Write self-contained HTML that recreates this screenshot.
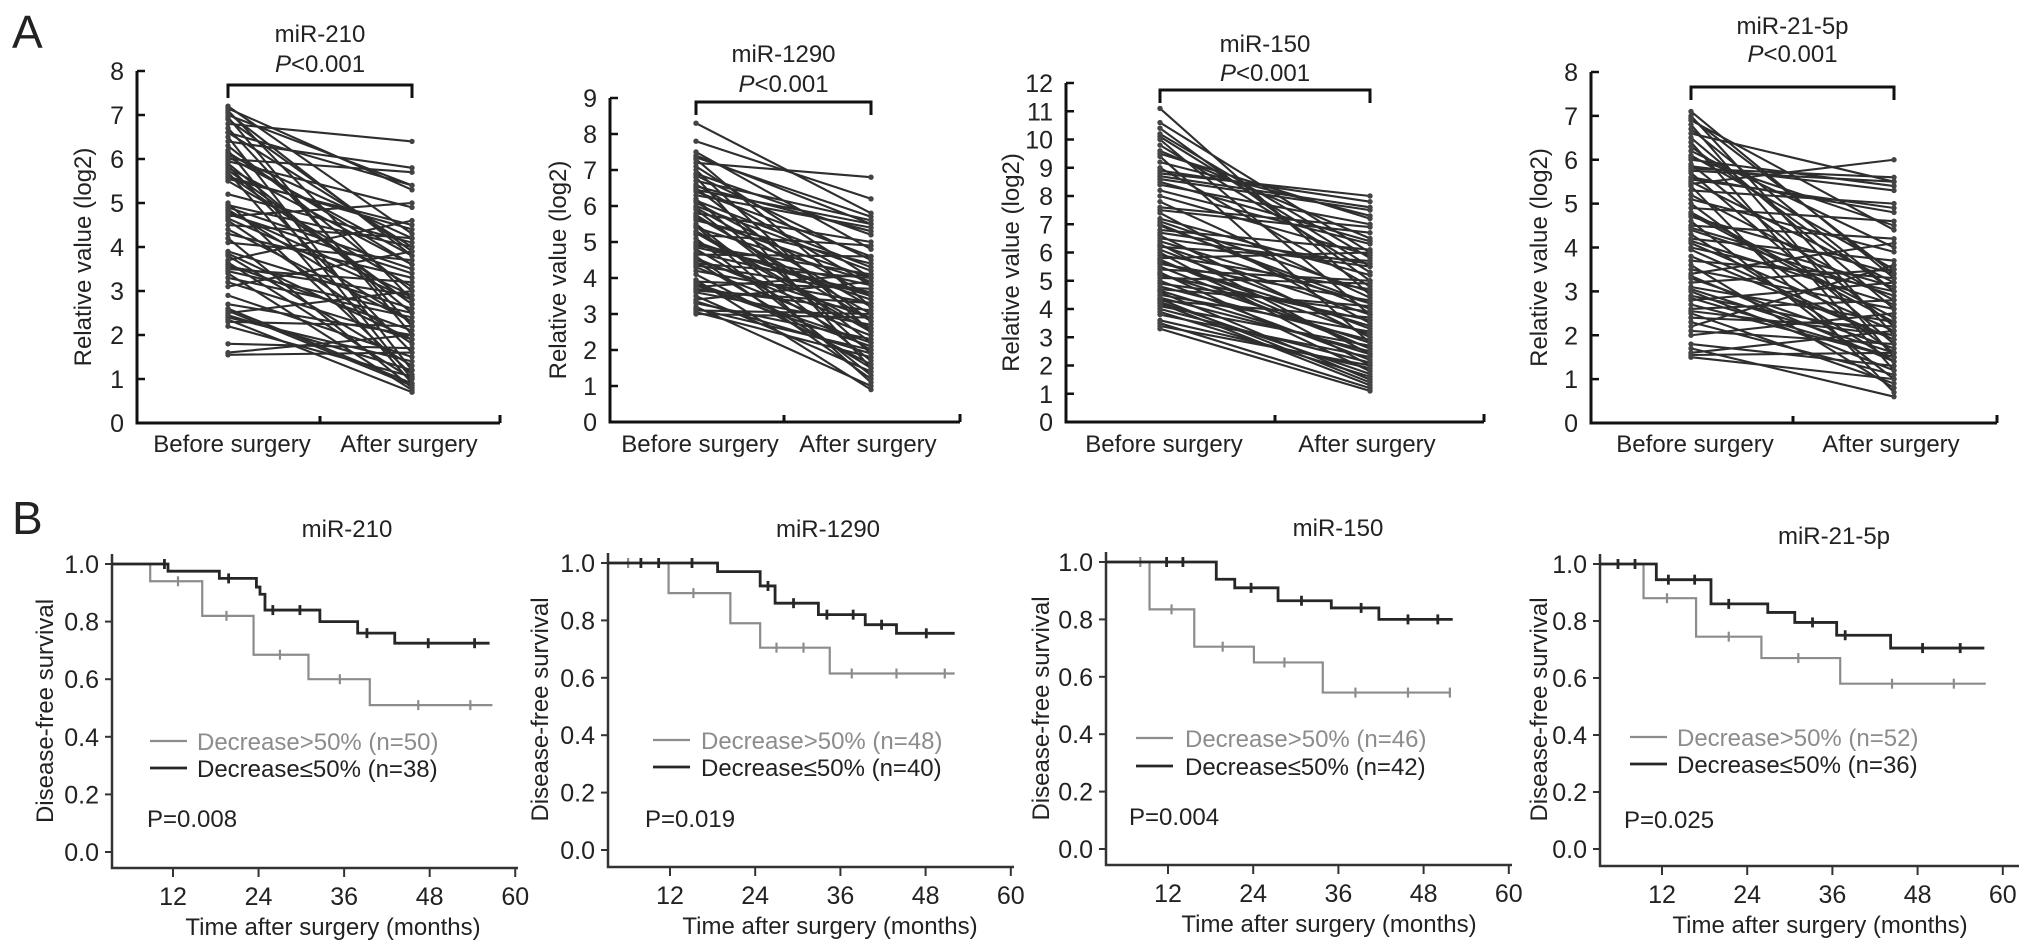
<!DOCTYPE html>
<html><head><meta charset="utf-8"><style>
html,body{margin:0;padding:0;background:#fff}
svg{display:block}
text{font-family:"Liberation Sans",Arial,sans-serif;fill:#222}
</style></head><body>
<svg id="fig" width="2032" height="952" viewBox="0 0 2032 952" xmlns="http://www.w3.org/2000/svg">
<text x="12" y="48" font-size="46">A</text>
<text x="12" y="534" font-size="46">B</text>
</svg>
<script>
// ---------- Panel A data (log2 relative values) ----------
const aTitles = ["miR-210","miR-1290","miR-150","miR-21-5p"];
const aYTicks1 = [0,1,2,3,4,5,6,7,8];
const aYTicks2 = [0,1,2,3,4,5,6,7,8,9];
const aYTicks3 = [0,1,2,3,4,5,6,7,8,9,10,11,12];
const aYTicks4 = [0,1,2,3,4,5,6,7,8];
const aCategories = ["Before surgery","After surgery"];
const a1Before = [7.2,7.1,7.0,6.9,6.8,6.7,6.6,6.5,6.4,6.3, 6.2,6.1,6.0,5.9,5.8,5.7,5.6,5.5,7.15,6.95, 6.05,5.85,5.65,5.2,5.0,4.9,4.8,4.7,4.6,4.5, 4.4,4.3,4.2,4.1,3.9,3.8,3.7,3.6,3.5,3.4, 3.3,3.2,3.1,2.9,2.7,2.6,2.5,2.4,2.3,2.2, 1.8,1.6,1.55,4.75,4.65,3.65,3.45,2.55,2.45,5.95, 6.15,5.75,4.95,3.85,2.35,6.6,4.85,3.55,7.05,5.55];
const a1After  = [4.3,2.8,5.4,3.9,6.4,2.2,4.0,1.2,5.8,3.0, 1.0,4.2,5.7,2.5,3.6,0.9,4.4,3.1,5.3,2.0, 3.8,1.6,2.7,4.1,1.1,3.5,2.9,5.0,1.8,4.2, 2.3,3.3,0.8,3.7,2.6,1.3,4.6,2.1,3.2,0.75, 2.4,1.9,3.9,1.5,2.0,0.9,3.0,1.4,2.2,1.05, 1.7,2.0,1.6,3.4,2.8,1.0,2.5,0.85,1.2,4.9, 3.6,2.7,4.0,1.9,0.7,5.4,2.3,2.9,3.8,4.5];
const a2Before = [8.3,7.8,7.5,7.4,7.3,7.2,7.1,7.0,6.9,6.8, 6.7,6.6,6.5,6.4,6.3,6.2,6.1,6.0,5.9,5.8, 5.7,5.6,5.5,5.4,5.3,5.2,5.1,5.0,4.9,4.8, 4.7,4.6,4.5,4.4,4.3,4.2,4.1,3.9,3.8,3.7, 3.6,3.5,3.4,3.3,3.2,3.1,3.0,3.05,6.85,6.45, 5.95,5.65,5.25,4.85,4.45,4.35,3.85,3.75,3.65,7.35, 6.15,5.45,4.95,4.55,3.95,3.35,6.55,5.75,4.65,3.15];
const a2After  = [5.8,6.2,4.8,5.5,3.2,6.8,4.0,2.5,5.2,1.5, 5.6,3.8,2.8,4.6,5.4,1.9,3.5,4.2,2.2,5.0, 3.0,4.4,1.7,3.9,2.6,4.9,1.3,3.4,4.1,2.0, 3.6,1.2,2.9,4.0,2.4,3.3,1.6,3.7,2.1,3.1, 2.7,1.4,3.9,2.3,1.0,3.0,2.9,1.8,4.5,5.5, 3.2,4.0,2.5,3.8,1.5,3.6,2.2,4.1,3.3,5.7, 4.3,1.1,3.5,2.6,0.9,1.9,5.3,2.8,4.6,2.0];
const a3Before = [11.1,10.6,10.4,10.2,10.0,9.8,9.6,9.4,9.2,9.0, 8.9,8.8,8.6,8.4,8.2,8.0,7.8,7.6,7.4,7.2, 7.0,6.8,6.6,6.5,6.4,6.3,6.2,6.1,6.0,5.9, 5.8,5.7,5.6,5.5,5.4,5.3,5.2,5.1,5.0,4.9, 4.8,4.7,4.6,4.5,4.4,4.3,4.2,4.1,4.0,3.9, 3.8,3.6,3.5,3.4,3.3,8.7,7.5,6.7,5.65,4.65, 9.5,8.5,7.1,6.25,5.25,4.35,10.1,6.95,5.75,4.25];
const a3After  = [4.5,6.0,5.0,5.8,3.8,5.3,6.5,2.8,7.3,4.8, 7.8,8.0,7.5,7.0,6.3,5.9,4.4,6.9,3.5,5.2, 4.0,6.1,3.0,5.5,4.2,2.4,5.7,3.3,2.0,4.7, 6.0,3.1,4.3,2.6,5.0,1.8,3.6,4.9,2.2,3.9, 2.9,4.1,1.5,3.2,2.5,3.7,1.3,2.7,2.1,1.6, 2.3,1.9,1.2,2.0,1.1,7.6,6.7,5.6,3.4,2.4, 7.2,6.4,4.6,3.8,2.8,1.4,5.5,4.2,2.6,1.7];
const a4Before = [7.1,7.0,6.9,6.8,6.7,6.6,6.5,6.4,6.2,6.1, 6.0,5.9,5.8,5.7,5.6,5.5,5.4,5.3,5.2,5.1, 5.0,4.9,4.8,4.7,4.6,4.5,4.4,4.3,4.2,4.1, 4.0,3.8,3.7,3.6,3.5,3.4,3.3,3.2,3.1,3.0, 2.9,2.8,2.7,2.6,2.5,2.4,2.3,2.2,2.1,2.0, 1.8,1.7,1.6,1.5,5.75,5.45,4.15,3.05,2.55,6.05, 6.95,6.3,5.55,4.75,3.95,2.85,1.55,5.85,4.45,3.35];
const a4After  = [3.3,2.0,4.4,1.5,3.0,5.5,2.6,1.2,4.0,3.5, 5.4,2.2,5.6,1.8,4.8,3.2,0.7,5.0,2.8,3.9, 1.6,4.6,2.4,3.4,1.0,4.2,2.9,1.4,3.7,2.1, 3.0,1.9,3.3,0.8,2.6,4.1,1.7,3.5,2.3,1.2, 2.0,3.2,1.5,2.8,0.9,2.2,1.1,3.6,1.8,2.5, 1.3,0.6,2.1,1.0,5.5,6.0,2.7,1.6,2.0,4.5, 3.4,3.0,4.9,2.3,1.9,1.5,1.6,5.3,3.1,1.4];
const aPText = "<0.001";

// ---------- Panel B data (Kaplan-Meier) ----------
const bTitles = ["miR-210","miR-1290","miR-150","miR-21-5p"];
const bYTicks = [0.0,0.2,0.4,0.6,0.8,1.0];
const bXTicks = [12,24,36,48,60];
const bPValues = ["P=0.008","P=0.019","P=0.004","P=0.025"];
const bGrayN = [50,48,46,52];
const bBlackN = [38,40,42,36];
const b1BlackT = [11.3,18.5,23.7,24.2,24.9,32.6,37.9,43.1];
const b1BlackS = [0.975,0.95,0.92,0.895,0.84,0.80,0.76,0.725];
const b1BlackEnd = 56.4;
const b1BlackCens = [10.8,19.8,26,29.8,39.2,47.8,54.3];
const b1GrayT = [8.8,16.1,23.3,31.0,39.6];
const b1GrayS = [0.94,0.82,0.685,0.60,0.51];
const b1GrayEnd = 56.8;
const b1GrayCens = [12.7,19.5,27,35.4,46.4,53.7];

const b2BlackT = [18.7,24.7,26.8,32.9,39.5,43.9];
const b2BlackS = [0.97,0.92,0.86,0.82,0.785,0.755];
const b2BlackEnd = 52.1;
const b2BlackCens = [7.9,10.4,15.1,25.8,29.4,34.1,37.8,41.8,48.1];
const b2GrayT = [11.8,20.5,24.7,34.5];
const b2GrayS = [0.895,0.79,0.705,0.615];
const b2GrayEnd = 52.1;
const b2GrayCens = [6.1,15.3,27,30.8,37.6,43.9,50.7];

const b3BlackT = [18.8,21.4,27.5,35.0,41.7];
const b3BlackS = [0.94,0.91,0.865,0.84,0.80];
const b3BlackEnd = 52.1;
const b3BlackCens = [11.8,14.1,23.7,30.8,39.2,45.8,50];
const b3GrayT = [9.4,15.7,24.1,33.8];
const b3GrayS = [0.835,0.705,0.65,0.545];
const b3GrayEnd = 51.7;
const b3GrayCens = [8.1,12.5,19.7,28.4,38.4,45.8,51.7];

const b4BlackT = [11.2,18.9,26.9,30.7,36.6,44.2];
const b4BlackS = [0.945,0.86,0.83,0.795,0.75,0.705];
const b4BlackEnd = 57.4;
const b4BlackCens = [5.8,8.2,12.9,16.6,21.4,33.2,37.8,48.7,54];
const b4GrayT = [9.4,16.8,26.0,37.1];
const b4GrayS = [0.88,0.745,0.67,0.58];
const b4GrayEnd = 57.6;
const b4GrayCens = [12.7,21.4,31.2,44.4,53.1];

const NS = "http://www.w3.org/2000/svg";
const svg = document.getElementById("fig");
function mk(tag, attrs, parent){
  const e = document.createElementNS(NS, tag);
  for (const k in attrs) e.setAttribute(k, attrs[k]);
  (parent||svg).appendChild(e);
  return e;
}
function txt(x,y,s,size,anchor,parent,fill){
  const t = mk("text",{x:x,y:y,"font-size":size,"text-anchor":anchor||"start"},parent);
  if (fill) t.setAttribute("style","fill:"+fill);
  t.textContent = s;
  return t;
}

// ---------- Panel A ----------
const aLayout = [
  {ax:137,y0:423,yTop:71,xB:228,xA:412,end:500,mid:320,br:85,ty:33,py:63,ylx:83},
  {ax:610,y0:422,yTop:98,xB:696,xA:871,end:960,mid:784,br:102,ty:53,py:83,ylx:558},
  {ax:1066,y0:422,yTop:83,xB:1160,xA:1370,end:1484,mid:1275,br:90,ty:43,py:72,ylx:1011},
  {ax:1591,y0:423,yTop:72,xB:1691,xA:1894,end:1997,mid:1793,br:87,ty:25,py:53,ylx:1539}
];
const aTicks = [aYTicks1,aYTicks2,aYTicks3,aYTicks4];
const aBefore = [a1Before,a2Before,a3Before,a4Before];
const aAfter = [a1After,a2After,a3After,a4After];

aLayout.forEach((L,i)=>{
  const g = mk("g",{});
  
  
  const ticks = aTicks[i];
  const yMax = ticks[ticks.length-1];
  const yS = v => L.y0 - (L.y0-L.yTop)*v/yMax;
  const lines = mk("g",{stroke:"#2e2e2e","stroke-width":"2.1",fill:"none"},g);
  
  
  const B = aBefore[i], A = aAfter[i];
  const n = Math.min(B.length, A.length);
  for (let k=0;k<n;k++){
    const ln = mk("line",{x1:L.xB,y1:yS(B[k]),x2:L.xA,y2:yS(A[k])},lines);
    
    
  }
  const dots = mk("g",{fill:"#444"},g);
  
  
  for (let k=0;k<n;k++){
    const d1 = mk("circle",{cx:L.xB,cy:yS(B[k]),r:2.7},dots);
    
    
    const d2 = mk("circle",{cx:L.xA,cy:yS(A[k]),r:2.7},dots);
    
    
  }
  const ax = mk("path",{d:`M${L.ax},${L.yTop} V${L.y0} H${L.end} M${L.mid},${L.y0} v-7 M${L.end},${L.y0} v-8`,stroke:"#111","stroke-width":"3",fill:"none"},g);
  
  
  ticks.forEach(t=>{
    const y = yS(t);
    mk("line",{x1:L.ax,y1:y,x2:L.ax+8,y2:y,stroke:"#111","stroke-width":"2.5"},g);
    const tl = txt(L.ax-13,y+9,String(t),25,"end",g);
    
    
  });
  const c1 = txt(L.xB+4,452,aCategories[0],24,"middle",g);
  
  
  const c2 = txt(L.xA-3,452,aCategories[1],24,"middle",g);
  
  
  const yl = txt(0,0,"Relative value (log2)",24,"middle",g);
  yl.setAttribute("transform",`translate(${L.ylx+8},${(L.yTop+L.y0)/2+10}) rotate(-90)`);
  
  
  const br = mk("path",{d:`M${L.xB},${L.br+13} V${L.br} H${L.xA} V${L.br+13}`,stroke:"#111","stroke-width":"3",fill:"none"},g);
  
  
  const cx = (L.xB+L.xA)/2;
  const tt = txt(cx,L.ty+9,aTitles[i],24,"middle",g);
  
  
  const pt = mk("text",{x:cx,y:L.py+9,"font-size":24,"text-anchor":"middle"},g);
  
  
  const ts = mk("tspan",{"font-style":"italic"},pt); ts.textContent="P";
  const ts2 = mk("tspan",{},pt); ts2.textContent=aPText;
});

// ---------- Panel B ----------
const bLayout = [
  {ax:112,y1:564,y0:852,ly:868,x12:173,ppm:7.13,xe:518,tx:347,ty:528,lx:150,ltx:197,lg1:741,lg2:768,px:147,py:818,ylx:45,xtx:333},
  {ax:608,y1:563,y0:850,ly:867,x12:670,ppm:7.1,xe:1014,tx:828,ty:528,lx:653,ltx:701,lg1:740,lg2:767,px:645,py:818,ylx:540,xtx:830},
  {ax:1106,y1:562,y0:849,ly:865,x12:1168,ppm:7.1,xe:1512,tx:1338,ty:527,lx:1136,ltx:1185,lg1:738,lg2:766,px:1129,py:816,ylx:1041,xtx:1329},
  {ax:1600,y1:564,y0:849,ly:866,x12:1662,ppm:7.1,xe:2019,tx:1834,ty:535,lx:1630,ltx:1677,lg1:737,lg2:764,px:1624,py:819,ylx:1539,xtx:1820}
];
const bBlack = [[b1BlackT,b1BlackS,b1BlackEnd,b1BlackCens],[b2BlackT,b2BlackS,b2BlackEnd,b2BlackCens],[b3BlackT,b3BlackS,b3BlackEnd,b3BlackCens],[b4BlackT,b4BlackS,b4BlackEnd,b4BlackCens]];
const bGray = [[b1GrayT,b1GrayS,b1GrayEnd,b1GrayCens],[b2GrayT,b2GrayS,b2GrayEnd,b2GrayCens],[b3GrayT,b3GrayS,b3GrayEnd,b3GrayCens],[b4GrayT,b4GrayS,b4GrayEnd,b4GrayCens]];

bLayout.forEach((L,i)=>{
  const g = mk("g",{});
  
  
  const xS = m => L.x12 + (m-12)*L.ppm;
  const yS = v => L.y0 - (L.y0-L.y1)*v;
  const ax = mk("path",{d:`M${L.ax},${L.y1-10} V${L.ly} H${L.xe}`,stroke:"#333","stroke-width":"2.5",fill:"none"},g);
  
  
  bYTicks.forEach(t=>{
    const y = yS(t);
    mk("line",{x1:L.ax-7,y1:y,x2:L.ax,y2:y,stroke:"#333","stroke-width":"2"},g);
    const tl = txt(L.ax-13,y+9,t.toFixed(1),25,"end",g);
    
    
  });
  bXTicks.forEach(t=>{
    const x = xS(t);
    mk("line",{x1:x,y1:L.ly,x2:x,y2:L.ly+9,stroke:"#333","stroke-width":"2"},g);
    const tl = txt(x,L.ly+37,String(t),25,"middle",g);
    
    
  });
  const xt = txt(L.xtx,L.ly+67,"Time after surgery (months)",24,"middle",g);
  
  
  const yl = txt(0,0,"Disease-free survival",24,"middle",g);
  yl.setAttribute("transform",`translate(${L.ylx+8},${(L.y1+L.y0)/2+3}) rotate(-90)`);
  
  
  const tt = txt(L.tx,L.ty+9,bTitles[i],24,"middle",g);
  
  

  function drawCurve(data, color, w, name){
    const [T,S,end,C] = data;
    let d = `M${L.ax},${yS(1)}`;
    for (let k=0;k<T.length;k++){ d += ` H${xS(T[k])} V${yS(S[k])}`; }
    d += ` H${xS(end)}`;
    const p = mk("path",{d:d,stroke:color,"stroke-width":w,fill:"none"},g);
    
    
    C.forEach(c=>{
      let lev = 1;
      for (let k=0;k<T.length;k++) if (T[k]<=c) lev = S[k];
      const y = yS(lev), x = xS(c);
      const cm = mk("line",{x1:x,y1:y-5,x2:x,y2:y+5,stroke:color,"stroke-width":w},g);
      
      
    });
  }
  drawCurve(bGray[i], "#8c8c8c", 2.2, "curve-decrease-gt-50");
  drawCurve(bBlack[i], "#262626", 2.8, "curve-decrease-le-50");

  const lg = mk("g",{},g);
  
  
  mk("line",{x1:L.lx,y1:L.lg1,x2:L.lx+37,y2:L.lg1,stroke:"#8c8c8c","stroke-width":2.2},lg);
  const l1 = txt(L.ltx,L.lg1+9,"Decrease>50% (n="+bGrayN[i]+")",24,"start",lg,"#8c8c8c");
  
  
  mk("line",{x1:L.lx,y1:L.lg2,x2:L.lx+37,y2:L.lg2,stroke:"#262626","stroke-width":2.8},lg);
  const l2 = txt(L.ltx,L.lg2+9,"Decrease\u226450% (n="+bBlackN[i]+")",24,"start",lg);
  
  
  const pv = txt(L.px,L.py+9,bPValues[i],24,"start",g);
  
  
});
</script>
</body></html>
